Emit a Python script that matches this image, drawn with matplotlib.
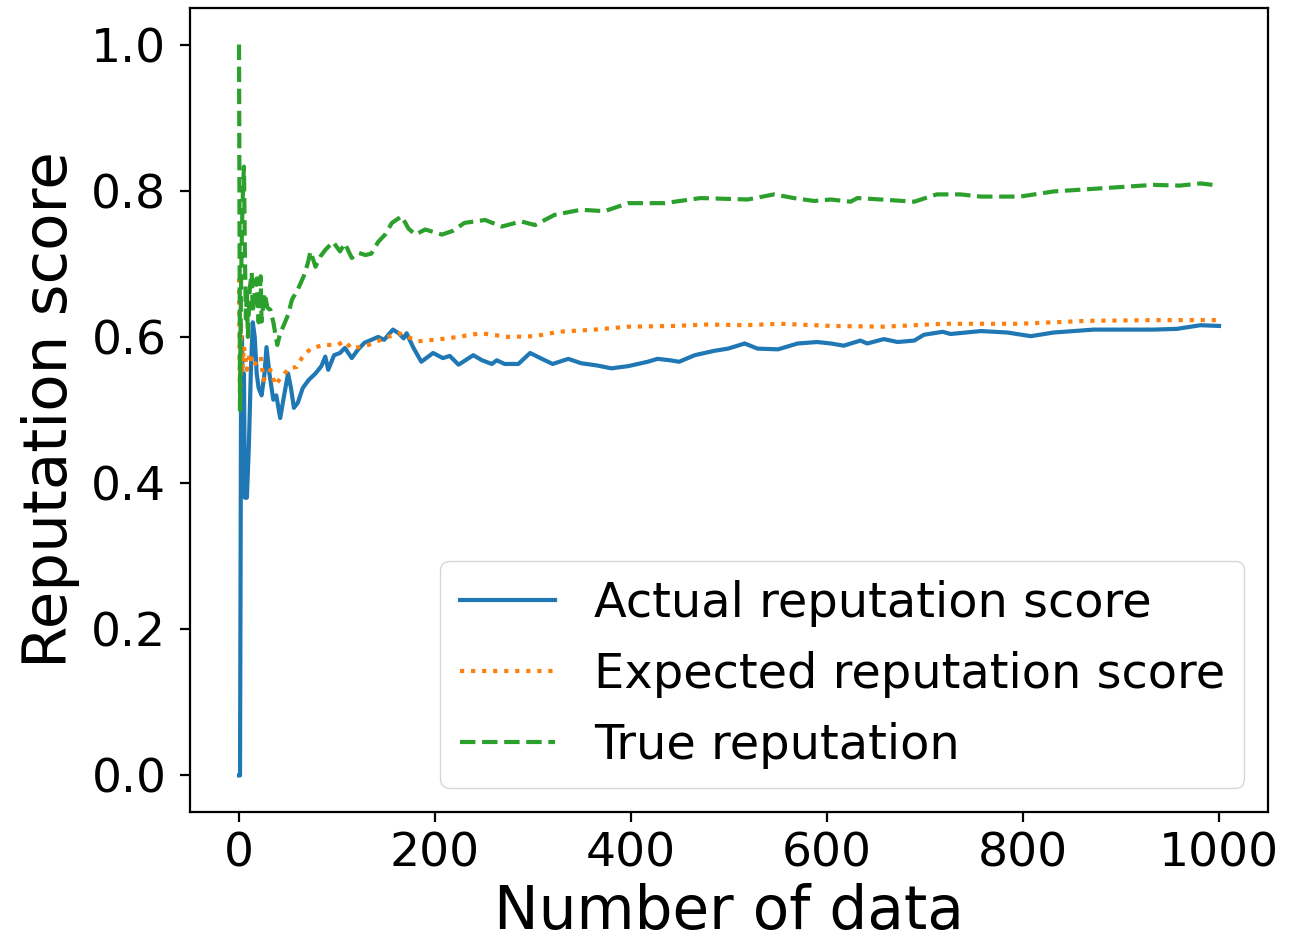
import matplotlib
matplotlib.use("Agg")
import matplotlib.pyplot as plt

# values
actual_x = [0, 1, 2, 3, 4, 5, 6, 7, 8, 10, 12, 14, 16, 18, 20, 23, 26, 28, 31, 35, 38, 42, 46,
            50, 53, 56, 60, 65, 71, 78, 84, 88, 91, 97, 103, 108, 115, 121, 128, 135, 142,
            148, 157, 163, 168, 171, 178, 186, 192, 198, 208, 215, 224, 231, 239, 248, 258,
            263, 271, 285, 297, 309, 320, 336, 349, 365, 380, 397, 417, 427, 440, 449, 465,
            485, 499, 516, 529, 550, 570, 590, 604, 617, 634, 641, 658, 672, 689, 699, 718,
            726, 757, 784, 808, 831, 872, 899, 933, 957, 981, 1000]
actual_y = [0.0, 0.0, 0.5, 0.6, 0.45, 0.55, 0.38, 0.40, 0.38, 0.45, 0.55, 0.62, 0.60, 0.55,
            0.53, 0.52, 0.55, 0.586, 0.55, 0.514, 0.52, 0.489, 0.52, 0.55, 0.53, 0.503, 0.51,
            0.53, 0.541, 0.55, 0.56, 0.573, 0.555, 0.575, 0.578, 0.585, 0.571, 0.582, 0.592,
            0.596, 0.60, 0.596, 0.610, 0.605, 0.598, 0.605, 0.585, 0.566, 0.572, 0.578, 0.571,
            0.574, 0.562, 0.568, 0.575, 0.568, 0.563, 0.568, 0.563, 0.563, 0.578, 0.570,
            0.563, 0.570, 0.564, 0.561, 0.557, 0.560, 0.566, 0.570, 0.568, 0.566, 0.575,
            0.581, 0.584, 0.591, 0.584, 0.583, 0.591, 0.593, 0.591, 0.588, 0.595, 0.591,
            0.597, 0.593, 0.595, 0.603, 0.607, 0.604, 0.608, 0.606, 0.601, 0.606, 0.610,
            0.610, 0.610, 0.611, 0.616, 0.615]

expected_x = [0, 1, 2, 3, 5, 8, 11, 14, 17, 22, 25, 32, 37, 42, 51, 59, 64, 73, 86, 100, 108,
              115, 132, 152, 163, 183, 213, 247, 275, 302, 326, 363, 397, 444, 478, 516, 553,
              604, 658, 719, 797, 865, 933, 1000]
expected_y = [0.68, 0.50, 0.62, 0.55, 0.587, 0.555, 0.578, 0.56, 0.564, 0.573, 0.541, 0.555,
              0.534, 0.543, 0.557, 0.559, 0.571, 0.584, 0.589, 0.589, 0.594, 0.584, 0.589,
              0.600, 0.605, 0.594, 0.598, 0.605, 0.600, 0.601, 0.607, 0.610, 0.614, 0.615,
              0.617, 0.616, 0.618, 0.615, 0.614, 0.618, 0.618, 0.622, 0.623, 0.623]

true_x = [0, 1, 2, 3, 4, 5, 6, 7, 8, 9, 10, 11, 13, 14, 16, 18, 20, 22, 23, 26, 29, 32, 35,
          39, 42, 45, 50, 54, 60, 66, 70, 73, 78, 83, 88, 96, 103, 108, 115, 122, 129, 135,
          142, 149, 156, 166, 173, 180, 190, 207, 218, 230, 251, 268, 288, 302, 322, 349,
          373, 397, 434, 471, 519, 546, 566, 587, 604, 624, 631, 655, 689, 712, 736, 757,
          797, 831, 865, 899, 933, 960, 981, 1000]
true_y = [1.0, 0.5, 0.667, 0.75, 0.8, 0.833, 0.714, 0.625, 0.667, 0.6, 0.636, 0.667, 0.688,
          0.633, 0.66, 0.68, 0.62, 0.683, 0.621, 0.66, 0.64, 0.637, 0.62, 0.589, 0.605,
          0.614, 0.63, 0.651, 0.665, 0.683, 0.70, 0.717, 0.696, 0.71, 0.719, 0.730, 0.717,
          0.728, 0.708, 0.715, 0.712, 0.714, 0.73, 0.740, 0.756, 0.765, 0.748, 0.740, 0.747,
          0.740, 0.745, 0.756, 0.760, 0.751, 0.758, 0.753, 0.767, 0.774, 0.772, 0.783, 0.783,
          0.790, 0.788, 0.795, 0.790, 0.786, 0.788, 0.785, 0.790, 0.788, 0.785, 0.795, 0.795,
          0.792, 0.792, 0.799, 0.802, 0.805, 0.808, 0.807, 0.810, 0.807]

fig = plt.figure(figsize=(13.07, 9.42), dpi=100)
ax = fig.add_subplot(111)
fig.subplots_adjust(left=0.1454, right=0.9702, top=0.9915, bottom=0.138)

ax.plot(actual_x, actual_y, "-", color="#1f77b4", lw=3, label="Actual reputation score")
ax.plot(expected_x, expected_y, ":", color="#ff7f0e", lw=3, label="Expected reputation score")
ax.plot(true_x, true_y, "--", color="#2ca02c", lw=3, label="True reputation")

ax.set_xlabel("Number of data", fontsize=43, labelpad=5)
ax.set_ylabel("Reputation score", fontsize=44, labelpad=8)
ax.tick_params(labelsize=34, length=7, width=1.6, pad=7)
ax.tick_params(axis="y", pad=10)
for s in ax.spines.values():
    s.set_linewidth(1.6)
ax.legend(loc="lower right", fontsize=34.5)

fig.savefig("out.png", dpi=100)
